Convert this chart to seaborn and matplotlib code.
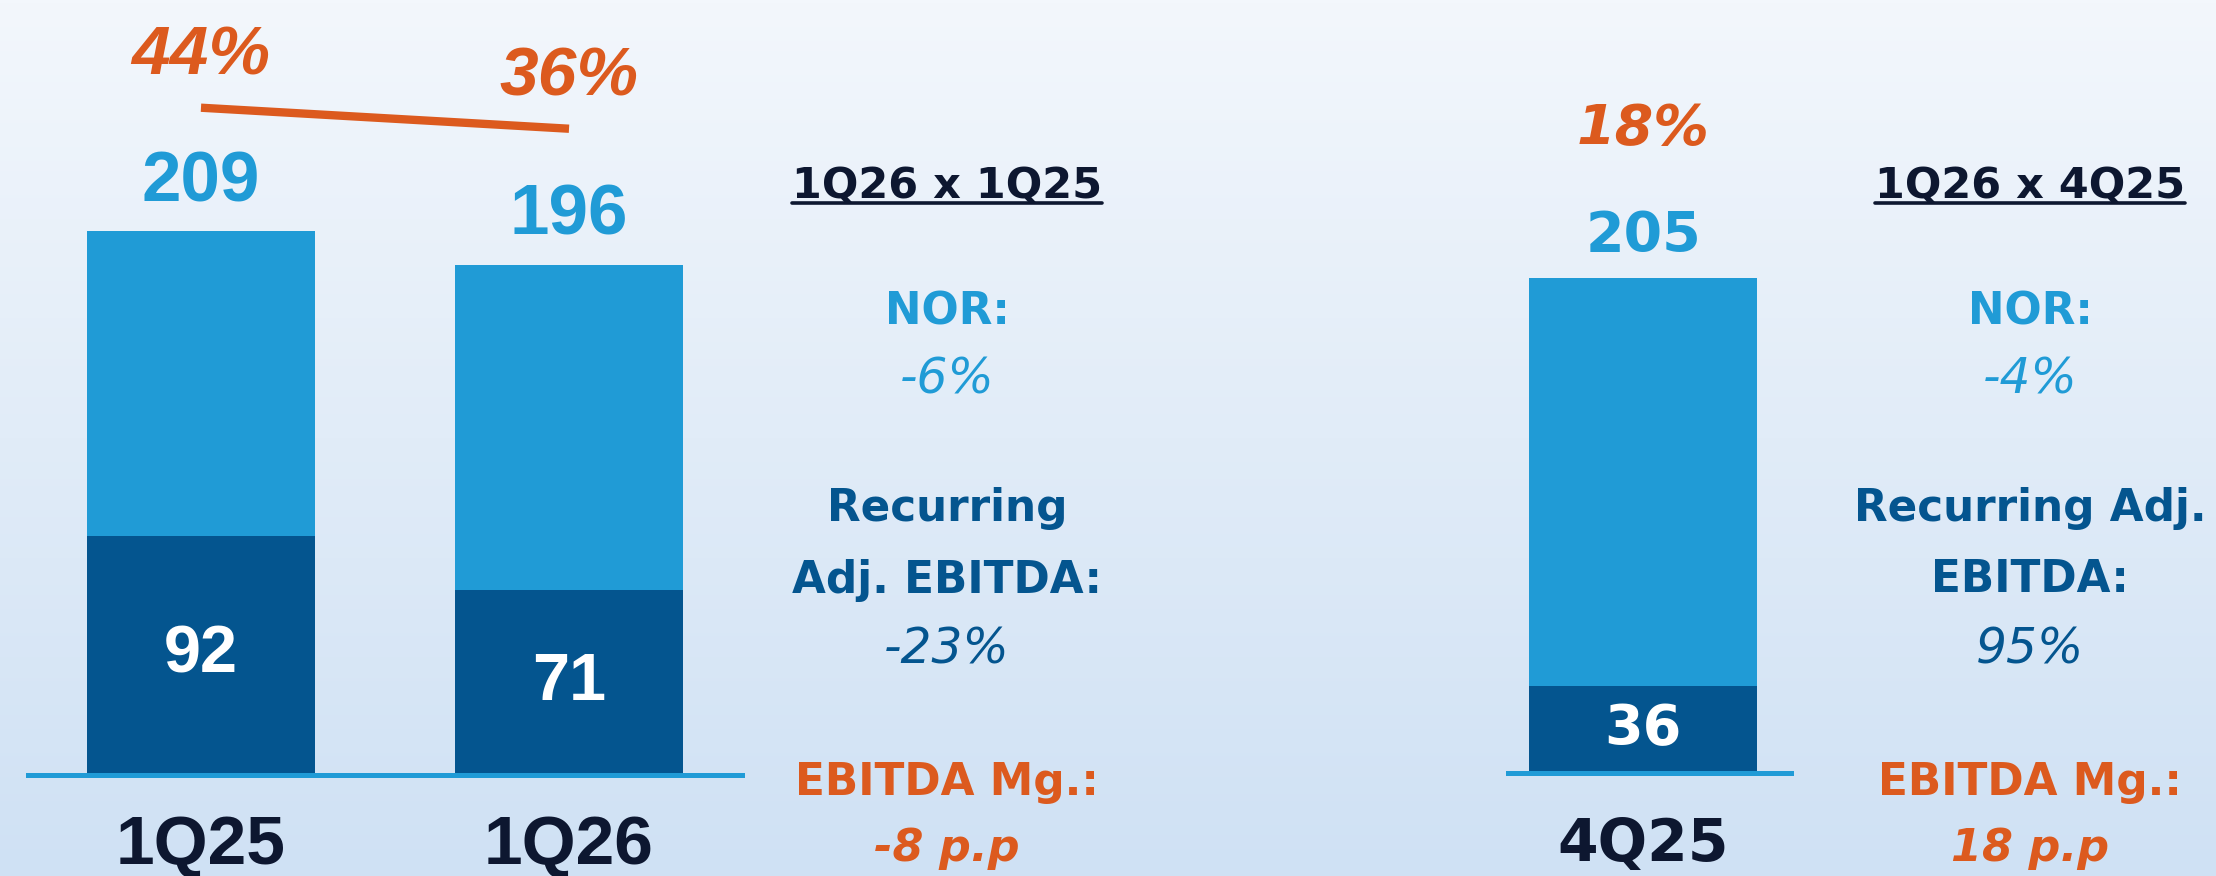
import numpy as np
import pandas as pd
import matplotlib
matplotlib.use("Agg")
import matplotlib.pyplot as plt
import seaborn as sns

# Chart data
quarters_yoy = ["1Q25", "1Q26"]
nor_yoy = [209, 196]
ebitda_yoy = [92, 71]
margin_yoy = [44, 36]

quarters_qoq = ["4Q25"]
nor_qoq = [205]
ebitda_qoq = [36]
margin_qoq = [18]

# Side panel texts
panel_titles = ["1Q26 x 1Q25", "1Q26 x 4Q25"]
nor_changes = ["-6%", "-4%"]
ebitda_headers = [["Recurring", "Adj. EBITDA:"], ["Recurring Adj.", "EBITDA:"]]
ebitda_changes = ["-23%", "95%"]
margin_changes = ["-8 p.p", "18 p.p"]

# Colours
LIGHT = "#209bd6"
DARK = "#04558f"
ORANGE = "#dc5a1e"
NAVY = "#0d1730"

sns.set_theme(style="white")
plt.rcParams["font.family"] = ["Liberation Sans", "DejaVu Sans"]

W, H = 2216, 876
fig = plt.figure(figsize=(W / 100, H / 100), dpi=100)

# Background gradient
bg = fig.add_axes([0, 0, 1, 1], zorder=-10)
grad = np.linspace(0, 1, 256).reshape(-1, 1)
top = np.array([0xf3, 0xf7, 0xfc]) / 255
bot = np.array([0xcf, 0xe1, 0xf4]) / 255
img = top + (bot - top) * grad[..., None]
bg.imshow(img, aspect="auto", extent=[0, 1, 0, 1], origin="upper")
bg.axis("off")


def style_axis(ax, pad):
    ax.set_facecolor("none")
    for s in ["top", "left", "right"]:
        ax.spines[s].set_visible(False)
    ax.spines["bottom"].set_color(LIGHT)
    ax.spines["bottom"].set_linewidth(3.6)
    ax.set_yticks([])
    ax.set_xlabel("")
    ax.set_ylabel("")
    ax.tick_params(axis="x", length=0, pad=pad)


bar_kw = dict(width=0.618, saturation=1, linewidth=0, edgecolor="none")

# Left panel: 1Q25 vs 1Q26
ax1 = fig.add_axes([28 / W, 101 / H, 714 / W, 775 / H])
df_yoy = pd.DataFrame({"quarter": quarters_yoy, "nor": nor_yoy, "ebitda": ebitda_yoy})
sns.barplot(data=df_yoy, x="quarter", y="nor", color=LIGHT, ax=ax1, **bar_kw)
sns.barplot(data=df_yoy, x="quarter", y="ebitda", color=DARK, ax=ax1, **bar_kw)
ax1.set_xlim(-0.47, 1.47)
ax1.set_ylim(0, 298)
style_axis(ax1, 28)
ax1.set_xticks(range(len(quarters_yoy)))
ax1.set_xticklabels(quarters_yoy, fontsize=50, fontweight="bold", color=NAVY)

for i, (n, e) in enumerate(zip(nor_yoy, ebitda_yoy)):
    ax1.annotate(str(n), (i, n), xytext=(0, 11), textcoords="offset points",
                 ha="center", va="bottom", fontsize=51, fontweight="bold", color=LIGHT)
    ax1.text(i, e / 2, str(e), ha="center", va="center", fontsize=48,
             fontweight="bold", color="white")

# Margin line on its own scale
tw = ax1.twinx()
tw.plot(range(len(margin_yoy)), margin_yoy, color=ORANGE, lw=6, solid_capstyle="butt")
tw.set_ylim(-210, 85)
tw.axis("off")
for i, m in enumerate(margin_yoy):
    tw.annotate(f"{m}%", (i, m), xytext=(0, 14), textcoords="offset points",
                ha="center", va="bottom", fontsize=50, fontweight="bold",
                fontstyle="italic", color=ORANGE)

# Right panel: 4Q25
ax2 = fig.add_axes([1508 / W, 103 / H, 283 / W, 773 / H])
df_qoq = pd.DataFrame({"quarter": quarters_qoq, "nor": nor_qoq, "ebitda": ebitda_qoq})
sns.barplot(data=df_qoq, x="quarter", y="nor", color=LIGHT, ax=ax2, **bar_kw)
sns.barplot(data=df_qoq, x="quarter", y="ebitda", color=DARK, ax=ax2, **bar_kw)
ax2.set_xlim(-0.367, 0.4)
ax2.set_ylim(0, 320)
style_axis(ax2, 31)
ax2.set_xticks([0])
ax2.set_xticklabels(quarters_qoq, fontsize=42, fontweight="bold", color=NAVY,
                    family="DejaVu Sans")
for i, (n, e, m) in enumerate(zip(nor_qoq, ebitda_qoq, margin_qoq)):
    ax2.annotate(str(n), (i, n), xytext=(0, 11), textcoords="offset points",
                 ha="center", va="bottom", fontsize=40, fontweight="bold",
                 color=LIGHT, family="DejaVu Sans")
    ax2.text(i, e / 2, str(e), ha="center", va="center", fontsize=40,
             fontweight="bold", color="white", family="DejaVu Sans")
    ax2.annotate(f"{m}%", (i, n), xytext=(0, 88), textcoords="offset points",
                 ha="center", va="bottom", fontsize=40, fontweight="bold",
                 fontstyle="italic", color=ORANGE, family="DejaVu Sans")

# Side comparison panels
panel_x = [947, 2030]
for k, cx in enumerate(panel_x):
    x = cx / W
    kw = dict(ha="center", va="center", family="DejaVu Sans")
    t = fig.text(x, 1 - 186 / H, panel_titles[k], color=NAVY, fontweight="bold",
                 fontsize=31, **kw)
    # underline under the title
    fig.canvas.draw()
    bb = t.get_window_extent()
    fig.add_artist(plt.Line2D([bb.x0 / W, bb.x1 / W], [(H - 203) / H] * 2,
                              color=NAVY, lw=2.6))
    fig.text(x, 1 - 312 / H, "NOR:", color=LIGHT, fontweight="bold", fontsize=31.5, **kw)
    fig.text(x, 1 - 380 / H, nor_changes[k], color=LIGHT, fontstyle="italic",
             fontsize=35, **kw)
    fig.text(x, 1 - 509 / H, ebitda_headers[k][0], color=DARK, fontweight="bold",
             fontsize=31.5, **kw)
    fig.text(x, 1 - 580 / H, ebitda_headers[k][1], color=DARK, fontweight="bold",
             fontsize=31.5, **kw)
    fig.text(x, 1 - 649 / H, ebitda_changes[k], color=DARK, fontstyle="italic",
             fontsize=35, **kw)
    fig.text(x, 1 - 782 / H, "EBITDA Mg.:", color=ORANGE, fontweight="bold",
             fontsize=31.5, **kw)
    fig.text(x, 1 - 849 / H, margin_changes[k], color=ORANGE, fontweight="bold",
             fontstyle="italic", fontsize=32, **kw)

fig.savefig("out.png", dpi=100)
